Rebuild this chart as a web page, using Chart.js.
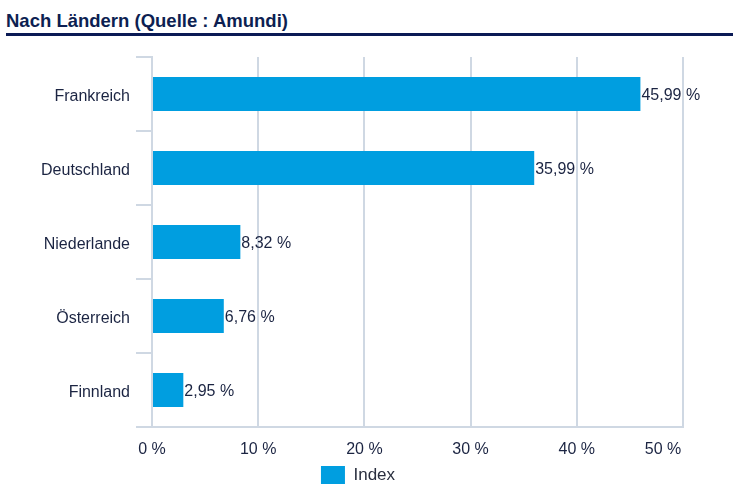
<!DOCTYPE html>
<html>
<head>
<meta charset="utf-8">
<script src="https://cdn.jsdelivr.net/npm/chart.js@4.4.0/dist/chart.umd.min.js"></script>
<style>
  html, body { margin: 0; padding: 0; background: #fff; }
  body { width: 756px; height: 494px; position: relative; overflow: hidden; font-family: "Liberation Sans", Arial, sans-serif; }
  #title { position: absolute; left: 6px; top: 10px; font-size: 18.5px; font-weight: bold; color: #0d1f52; white-space: nowrap; }
  #rule { position: absolute; left: 6px; top: 33px; width: 727px; height: 3px; background: #0a1a55; }
  #wrap { position: absolute; left: 0; top: 40px; width: 756px; height: 454px; }
</style>
</head>
<body>
<div id="title">Nach Ländern (Quelle : Amundi)</div>
<div id="rule"></div>
<div id="wrap"><canvas id="c" width="756" height="454"></canvas></div>
<script>
const categories = ["Frankreich", "Deutschland", "Niederlande", "Österreich", "Finnland"];
const indexValues = [45.99, 35.99, 8.32, 6.76, 2.95];
const xTickValues = [0, 10, 20, 30, 40, 50];
const seriesName = "Index";

const textColor = "#1b2442";
const gridColor = "#cfd8e3";
const barColor = "#009ee0";
const fontFamily = '"Liberation Sans", Arial, sans-serif';

const fmt = v => v.toFixed(2).replace('.', ',') + ' %';

const valueLabels = {
  id: 'valueLabels',
  afterDatasetsDraw(chart) {
    const ctx = chart.ctx;
    const meta = chart.getDatasetMeta(0);
    ctx.save();
    ctx.font = '16px ' + fontFamily;
    ctx.fillStyle = textColor;
    ctx.textAlign = 'left';
    ctx.textBaseline = 'middle';
    meta.data.forEach((bar, i) => {
      ctx.fillText(fmt(chart.data.datasets[0].data[i]), bar.x + 1, bar.y + 2);
    });
    ctx.restore();
  }
};

new Chart(document.getElementById('c'), {
  type: 'bar',
  data: {
    labels: categories,
    datasets: [{
      label: seriesName,
      data: indexValues,
      backgroundColor: barColor,
      borderWidth: 0,
      barPercentage: 0.46,
      categoryPercentage: 1.0
    }]
  },
  options: {
    indexAxis: 'y',
    responsive: false,
    animation: false,
    layout: { padding: { left: 33, right: 73, top: 17, bottom: 0 } },
    plugins: {
      legend: {
        position: 'bottom',
        labels: {
          boxWidth: 24,
          boxHeight: 18,
          color: '#2a2f3f',
          font: { size: 17, family: fontFamily },
          padding: 7
        }
      },
      tooltip: { enabled: false },
      title: { display: false }
    },
    scales: {
      x: {
        min: 0, max: 50,
        afterBuildTicks(scale) { scale.ticks = xTickValues.map(v => ({ value: v })); },
        afterFit(scale) { scale.height = 32; },
        ticks: {
          color: textColor,
          font: { size: 16, family: fontFamily },
          padding: 13,
          maxRotation: 0,
          autoSkip: false,
          callback: (v) => v === 50 ? v + ' %\u2002\u2002\u2002\u2002\u2002' : v + ' %'
        },
        grid: { color: gridColor, lineWidth: 2, drawTicks: false },
        border: { color: gridColor, width: 2 }
      },
      y: {
        afterFit(scale) { scale.width = 119; },
        ticks: {
          color: textColor,
          font: { size: 16, family: fontFamily },
          padding: 6,
          labelOffset: 3
        },
        grid: { offset: true, drawOnChartArea: false, color: gridColor, lineWidth: 2, tickLength: 16 },
        border: { color: gridColor, width: 2 }
      }
    }
  },
  plugins: [valueLabels]
});
</script>
</body>
</html>
